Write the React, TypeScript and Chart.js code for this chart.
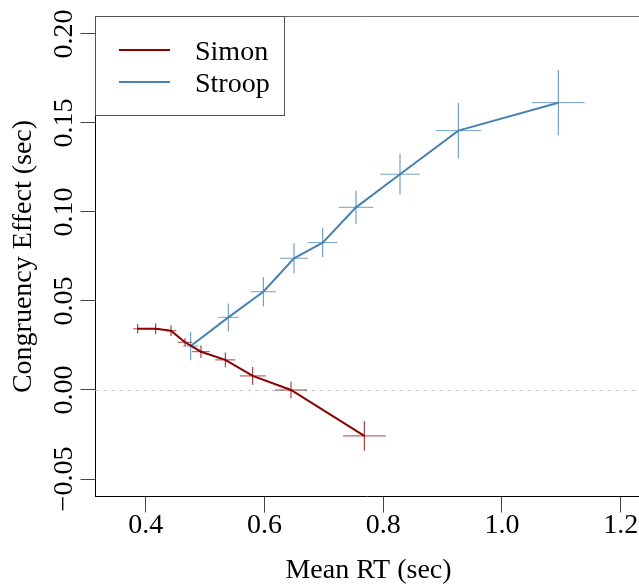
import React, { useEffect, useRef } from "react";
import { Chart, registerables } from "chart.js";

Chart.register(...registerables);

// ---- data ----
const simonRT = [0.3865, 0.4168, 0.4426, 0.4662, 0.4931, 0.5341, 0.5802, 0.6447, 0.7682];
const simonEffect = [0.0344, 0.0344, 0.0333, 0.0268, 0.0215, 0.0169, 0.0079, 0.0, -0.0258];
const simonRTErr = [0.0076, 0.008, 0.009, 0.012, 0.015, 0.017, 0.022, 0.027, 0.036];
const simonEffErr = [0.0026, 0.003, 0.003, 0.0023, 0.0035, 0.0042, 0.005, 0.0047, 0.0083];

const stroopRT = [0.4758, 0.5391, 0.5981, 0.6498, 0.6981, 0.7542, 0.8283, 0.9265, 1.0949];
const stroopEffect = [0.0247, 0.0408, 0.0552, 0.074, 0.0828, 0.1026, 0.1212, 0.1457, 0.1614];
const stroopRTErr = [0.013, 0.0174, 0.021, 0.0236, 0.025, 0.029, 0.033, 0.038, 0.0446];
const stroopEffErr = [0.008, 0.0078, 0.0082, 0.0084, 0.0081, 0.0094, 0.0115, 0.0156, 0.0183];

const xTicks = [0.4, 0.6, 0.8, 1.0, 1.2];
const xTickLabels = ["0.4", "0.6", "0.8", "1.0", "1.2"];
const yTicks = [-0.05, 0, 0.05, 0.1, 0.15, 0.2];
const yTickLabels = ["\u22120.05", "0.00", "0.05", "0.10", "0.15", "0.20"];

const seriesNames = ["Simon", "Stroop"];
const seriesColors = ["#8B0000", "#4682B4"];

const xTitle = "Mean RT (sec)";
const yTitle = "Congruency Effect (sec)";

const FONT = '"Liberation Serif", "DejaVu Serif", serif';
const FS = 28;

export default function App() {
  const ref = useRef<HTMLCanvasElement | null>(null);

  useEffect(() => {
    const canvas = ref.current;
    if (!canvas) return;

    const errs = [
      { rt: simonRT, eff: simonEffect, rtErr: simonRTErr, effErr: simonEffErr, color: seriesColors[0] },
      { rt: stroopRT, eff: stroopEffect, rtErr: stroopRTErr, effErr: stroopEffErr, color: seriesColors[1] },
    ];

    const decor = {
      id: "decor",
      beforeDatasetsDraw(chart: any) {
        const { ctx, chartArea, scales } = chart;
        const x = scales.x, y = scales.y;
        ctx.save();
        // zero reference line
        ctx.strokeStyle = "#c8c8c8";
        ctx.lineWidth = 1;
        ctx.setLineDash([4, 4]);
        const y0 = Math.round(y.getPixelForValue(0)) + 0.5;
        ctx.beginPath();
        ctx.moveTo(chartArea.left, y0);
        ctx.lineTo(chartArea.right, y0);
        ctx.stroke();
        ctx.setLineDash([]);
        // top frame line
        ctx.strokeStyle = "#6a6a6a";
        ctx.beginPath();
        ctx.moveTo(chartArea.left, chartArea.top);
        ctx.lineTo(chartArea.right, chartArea.top);
        ctx.stroke();
        // error crosses
        ctx.lineWidth = 1;
        for (const s of errs) {
          ctx.strokeStyle = s.color;
          for (let i = 0; i < s.rt.length; i++) {
            const px = x.getPixelForValue(s.rt[i]);
            const py = y.getPixelForValue(s.eff[i]);
            ctx.globalAlpha = 0.75;
            ctx.beginPath();
            ctx.moveTo(x.getPixelForValue(s.rt[i] - s.rtErr[i]), py);
            ctx.lineTo(x.getPixelForValue(s.rt[i] + s.rtErr[i]), py);
            ctx.stroke();
            ctx.globalAlpha = 0.9;
            ctx.beginPath();
            ctx.moveTo(px, y.getPixelForValue(s.eff[i] - s.effErr[i]));
            ctx.lineTo(px, y.getPixelForValue(s.eff[i] + s.effErr[i]));
            ctx.stroke();
          }
        }
        ctx.restore();
      },
      afterDraw(chart: any) {
        const { ctx, chartArea, scales } = chart;
        const y = scales.y;
        ctx.save();
        ctx.fillStyle = "#000";
        ctx.font = `${FS}px ${FONT}`;
        // y tick labels (rotated)
        ctx.textAlign = "center";
        ctx.textBaseline = "alphabetic";
        yTicks.forEach((v, i) => {
          const py = y.getPixelForValue(v);
          ctx.save();
          ctx.translate(71.5, py);
          ctx.rotate(-Math.PI / 2);
          ctx.fillText(yTickLabels[i], 0, 0);
          ctx.restore();
        });
        // y title
        ctx.save();
        ctx.translate(31, (chartArea.top + chartArea.bottom) / 2);
        ctx.rotate(-Math.PI / 2);
        ctx.fillText(yTitle, 0, 0);
        ctx.restore();
        // x title
        ctx.fillText(xTitle, 368.5, 578);
        // legend box
        ctx.strokeStyle = "#555";
        ctx.lineWidth = 1;
        ctx.strokeRect(chartArea.left, chartArea.top, 189, 99);
        const rows = [50, 82];
        seriesNames.forEach((name, i) => {
          ctx.strokeStyle = seriesColors[i];
          ctx.lineWidth = 2;
          ctx.beginPath();
          ctx.moveTo(119, rows[i]);
          ctx.lineTo(170, rows[i]);
          ctx.stroke();
          ctx.textAlign = "left";
          ctx.fillStyle = "#000";
          ctx.fillText(name, 195, rows[i] + 9.5);
        });
        ctx.restore();
      },
    };

    const chart = new Chart(canvas, {
      type: "line",
      data: {
        datasets: [
          {
            label: seriesNames[0],
            data: simonRT.map((v, i) => ({ x: v, y: simonEffect[i] })),
            borderColor: seriesColors[0],
            backgroundColor: seriesColors[0],
            borderWidth: 2,
            pointRadius: 0,
            tension: 0,
          },
          {
            label: seriesNames[1],
            data: stroopRT.map((v, i) => ({ x: v, y: stroopEffect[i] })),
            borderColor: seriesColors[1],
            backgroundColor: seriesColors[1],
            borderWidth: 2,
            pointRadius: 0,
            tension: 0,
          },
        ],
      },
      options: {
        responsive: false,
        animation: false,
        devicePixelRatio: 1,
        layout: { padding: { top: 16.5, right: 0, left: 0, bottom: 0 } },
        plugins: { legend: { display: false }, tooltip: { enabled: false } },
        scales: {
          x: {
            type: "linear",
            min: 0.31545,
            max: 1.2308,
            afterBuildTicks: (s: any) => {
              s.ticks = xTicks.map((v) => ({ value: v }));
            },
            afterFit: (s: any) => {
              s.height = 90.5;
              s.paddingLeft = 0;
              s.paddingRight = 0;
            },
            ticks: {
              callback: (_v: any, i: number) => xTickLabels[i],
              font: { family: FONT, size: FS },
              color: "#000",
              padding: -4,
              maxRotation: 0,
              minRotation: 0,
              autoSkip: false,
            },
            grid: { drawOnChartArea: false, tickLength: 16, color: "#444", lineWidth: 1 },
            border: { display: true, color: "#000", width: 1 },
          },
          y: {
            type: "linear",
            min: -0.05983,
            max: 0.2098,
            afterBuildTicks: (s: any) => {
              s.ticks = yTicks.map((v) => ({ value: v }));
            },
            afterFit: (s: any) => {
              s.width = 95.5;
              s.paddingTop = 0;
              s.paddingBottom = 0;
            },
            ticks: { display: false },
            grid: { drawOnChartArea: false, tickLength: 15, color: "#444", lineWidth: 1 },
            border: { display: true, color: "#000", width: 1 },
          },
        },
      },
      plugins: [decor],
    } as any);

    return () => chart.destroy();
  }, []);

  return (
    <div style={{ position: "absolute", left: 0, top: 0, width: 639, height: 587, background: "#fff" }}>
      <canvas ref={ref} width={639} height={587} style={{ display: "block" }} />
    </div>
  );
}
